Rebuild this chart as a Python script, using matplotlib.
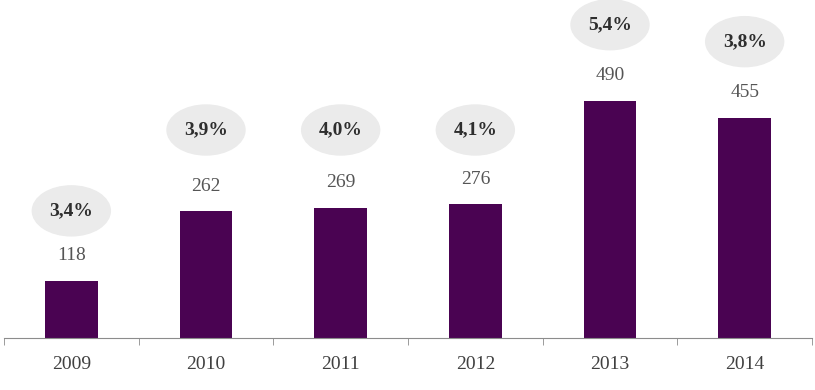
import matplotlib.pyplot as plt
from matplotlib.patches import Ellipse

years = ["2009", "2010", "2011", "2012", "2013", "2014"]
values = [118, 262, 269, 276, 490, 455]
shares = ["3,4%", "3,9%", "4,0%", "4,1%", "5,4%", "3,8%"]

plt.rcParams['font.family'] = ['Liberation Serif', 'DejaVu Serif']

fig = plt.figure(figsize=(8.15, 3.9), dpi=100)
ax = fig.add_axes([4 / 815, 52 / 390, 808 / 815, 338 / 390])

x = range(len(years))
ax.bar(x, values, width=0.39, color="#4a0352")
ax.set_xlim(-0.5, len(years) - 0.5)
ax.set_ylim(0, 698)

for i, (v, s) in enumerate(zip(values, shares)):
    ax.annotate(str(v), (i, v), xytext=(0, 18), textcoords="offset points",
                ha="center", va="center", fontsize=14, color="#555555")
    # bubble with growth share
    bx, by = ax.transData.transform((i, v))
    by += 76 if i else 70
    if i in (1, 2, 3):
        by = ax.transData.transform((0, 0))[1] + 208
    ex, ey = ax.transData.inverted().transform((bx, by))
    w = 78 / 808 * len(years)
    h = 50 / 338 * 698
    ax.add_patch(Ellipse((ex, ey), w, h, color="#ebebeb", clip_on=False, zorder=1))
    ax.text(ex, ey, s, ha="center", va="center", fontsize=14,
            fontweight="bold", color="#2e2e2e", zorder=2)

ax.set_yticks([])
for side in ("left", "right", "top"):
    ax.spines[side].set_visible(False)
ax.spines["bottom"].set_color("#8c8c8c")
ax.set_xticks(list(x))
ax.set_xticklabels(years, fontsize=14, color="#404040")
ax.tick_params(axis="x", which="major", length=0, pad=13)
ax.set_xticks([i - 0.5 for i in range(len(years) + 1)], minor=True)
ax.tick_params(axis="x", which="minor", length=5, color="#8c8c8c")

fig.savefig("out.png", dpi=100)
